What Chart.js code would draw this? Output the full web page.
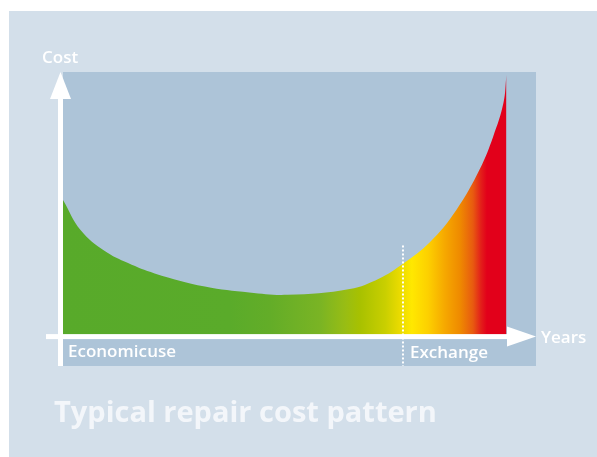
<!DOCTYPE html>
<html>
<head>
<meta charset="utf-8">
<script src="https://cdn.jsdelivr.net/npm/chart.js@4/dist/chart.umd.min.js"></script>
<style>
  html, body { margin: 0; padding: 0; background: #fff; }
  #wrap { position: relative; width: 597px; height: 457px; overflow: hidden; }
  #panel { position: absolute; left: 9px; top: 11px; width: 588px; height: 446px; background: #d3dfea; }
  #chart { position: absolute; left: 0; top: 0; }
  .lbl { position: absolute; font-family: "Open Sans", sans-serif; font-weight: 600;
         font-size: 17px; line-height: 17px; color: #fff; white-space: nowrap; }
  #title { font-size: 29px; line-height: 29px; font-weight: 700; color: #f3f6fa; }
</style>
</head>
<body>
<div id="wrap">
  <div id="panel"></div>
  <canvas id="chart" width="597" height="457"></canvas>
  <div class="lbl" style="left:42px; top:48px;">Cost</div>
  <div class="lbl" style="left:541px; top:328px;">Years</div>
  <div class="lbl" style="left:68px; top:342px; word-spacing:-4px;">Economic use</div>
  <div class="lbl" style="left:410px; top:343px;">Exchange</div>
  <div class="lbl" id="title" style="left:54px; top:396px;">Typical repair cost pattern</div>
</div>
<script>
// 修理費用カーブ（年数 → コスト）
var years = [0, 0.6, 1.4, 2.2, 3.1, 4.8, 6.3, 7.6, 9.7, 10.7, 11.5, 12.4, 13.3, 14.1, 14.55, 14.9, 15];
var costs = [4.65, 3.62, 2.92, 2.5, 2.15, 1.7, 1.5, 1.42, 1.62, 1.98, 2.48, 3.2, 4.3, 5.7, 6.8, 7.95, 8.9];

// 経済的使用 / 交換 の境界
var exchangeYear = 11.5;
var dividerTop = 3.1;

// 塗りのグラデーション（年数位置と色）
var gradStops = [0, 5.65, 7.0, 8.7, 9.54, 10.05, 10.9, 11.33, 11.8, 12.35, 12.92, 13.43, 13.87, 14.14, 14.34];
var gradColors = ['#58aa2a', '#5aab2a', '#63ad28', '#7ab424', '#98bd14', '#a8c100', '#c9cf00', '#e6d900',
                  '#ffe800', '#fdd000', '#f6a800', '#ef8a00', '#e85a10', '#e31f1a', '#e2001a'];

function fillGradient(context) {
  var chart = context.chart;
  var area = chart.chartArea;
  if (!area) return gradColors[0];
  var xs = chart.scales.x;
  var g = chart.ctx.createLinearGradient(area.left, 0, area.right, 0);
  var w = area.right - area.left;
  gradStops.forEach(function(v, i) {
    var p = (xs.getPixelForValue(v) - area.left) / w;
    g.addColorStop(Math.min(Math.max(p, 0), 1), gradColors[i]);
  });
  return g;
}

// 背景パネルと白い軸・矢印
var axesPlugin = {
  id: 'axesPlugin',
  beforeDatasetsDraw: function(chart) {
    var a = chart.chartArea;
    var ctx = chart.ctx;
    ctx.save();
    ctx.fillStyle = '#adc4d8';
    ctx.fillRect(a.left, a.top, a.right - a.left, a.bottom - a.top);
    ctx.restore();
  },
  afterDatasetsDraw: function(chart) {
    var a = chart.chartArea;
    var ctx = chart.ctx;
    var xs = chart.scales.x;
    var ys = chart.scales.y;
    var y0 = ys.getPixelForValue(0);
    var xd = xs.getPixelForValue(exchangeYear);
    ctx.save();

    // 点線
    ctx.strokeStyle = '#fff';
    ctx.lineWidth = 2;
    ctx.setLineDash([2, 2]);
    ctx.beginPath();
    ctx.moveTo(xd, ys.getPixelForValue(dividerTop));
    ctx.lineTo(xd, a.bottom);
    ctx.stroke();
    ctx.setLineDash([]);

    ctx.fillStyle = '#fff';
    // 縦軸
    var vx = a.left - 2.5;
    ctx.fillRect(vx - 2.5, a.top + 26, 5, a.bottom - a.top - 26);
    ctx.beginPath();
    ctx.moveTo(vx - 10.5, a.top + 27);
    ctx.lineTo(vx + 10.5, a.top + 27);
    ctx.lineTo(vx, a.top);
    ctx.closePath();
    ctx.fill();

    // 横軸
    ctx.fillRect(46, y0 - 2.5, a.right - 29 - 46 + 1, 5);
    ctx.beginPath();
    ctx.moveTo(a.right - 29, y0 - 10);
    ctx.lineTo(a.right - 29, y0 + 10);
    ctx.lineTo(a.right, y0);
    ctx.closePath();
    ctx.fill();
    ctx.restore();
  }
};

var points = years.map(function(x, i) { return { x: x, y: costs[i] }; });

new Chart(document.getElementById('chart').getContext('2d'), {
  type: 'line',
  data: {
    datasets: [{
      data: points,
      fill: 'origin',
      backgroundColor: fillGradient,
      borderWidth: 0,
      borderColor: 'rgba(0,0,0,0)',
      pointRadius: 0,
      tension: 0.4
    }]
  },
  options: {
    responsive: false,
    devicePixelRatio: 1,
    animation: false,
    layout: { padding: { left: 63, right: 61, top: 72, bottom: 91 } },
    scales: {
      x: { type: 'linear', min: 0, max: 16, display: false },
      y: { type: 'linear', min: -1, max: 9, display: false }
    },
    plugins: {
      legend: { display: false },
      tooltip: { enabled: false }
    }
  },
  plugins: [axesPlugin]
});
</script>
</body>
</html>
